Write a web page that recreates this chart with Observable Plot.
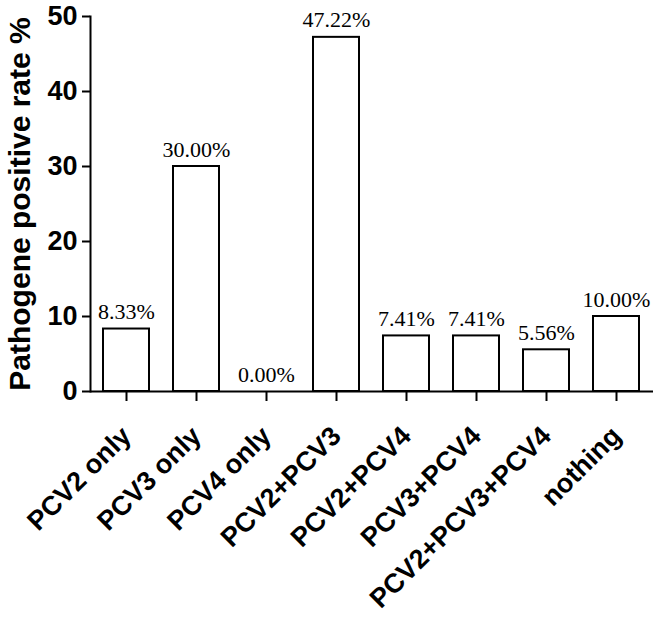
<!DOCTYPE html>
<html>
<head>
<meta charset="utf-8">
<script src="https://cdn.jsdelivr.net/npm/d3@7"></script>
<script src="https://cdn.jsdelivr.net/npm/@observablehq/plot@0.6"></script>
<style>
  html, body { margin: 0; padding: 0; background: white; }
  #chart svg { display: block; }
</style>
</head>
<body>
<div id="chart"></div>
<script>
const categories = ["PCV2 only", "PCV3 only", "PCV4 only", "PCV2+PCV3", "PCV2+PCV4", "PCV3+PCV4", "PCV2+PCV3+PCV4", "nothing"];
const rates = [8.33, 30.00, 0.00, 47.22, 7.41, 7.41, 5.56, 10.00];
const rateLabels = ["8.33%", "30.00%", "0.00%", "47.22%", "7.41%", "7.41%", "5.56%", "10.00%"];
const yTicks = [0, 10, 20, 30, 40, 50];
const yTitle = "Pathogene positive rate %";

const data = categories.map((c, i) => ({cat: c, rate: rates[i], label: rateLabels[i]}));

const chart = Plot.plot({
  width: 661,
  height: 621,
  marginLeft: 90,
  marginRight: 8,
  marginTop: 16,
  marginBottom: 230,
  style: {fontFamily: "'Liberation Sans', Arial, sans-serif", background: "white", color: "black"},
  x: {domain: categories, paddingInner: 0.34, paddingOuter: 0.18, label: null},
  y: {domain: [0, 50], label: null},
  marks: [
    Plot.barY(data, {x: "cat", y: "rate", fill: "white", stroke: "black", strokeWidth: 2}),
    Plot.text(data, {x: "cat", y: "rate", text: "label", dy: -17, fontFamily: "'Liberation Serif', 'Times New Roman', serif", fontSize: 22, fill: "black"}),
    Plot.axisY({ticks: yTicks, tickSize: 8, tickPadding: 5, fontSize: 27, fontWeight: "bold", strokeWidth: 2, label: null}),
    Plot.axisX({tickRotate: -45, tickSize: 10, tickPadding: 30, fontSize: 27, fontWeight: "bold", strokeWidth: 2, label: null}),
    Plot.frame({anchor: "left", strokeWidth: 2}),
    Plot.ruleY([0], {strokeWidth: 2}),
    Plot.text([yTitle], {text: d => d, frameAnchor: "left", textAnchor: "middle", rotate: -90, dx: -70, fontSize: 30, fontWeight: "bold", fill: "black"})
  ]
});
document.getElementById("chart").appendChild(chart);
</script>
</body>
</html>
